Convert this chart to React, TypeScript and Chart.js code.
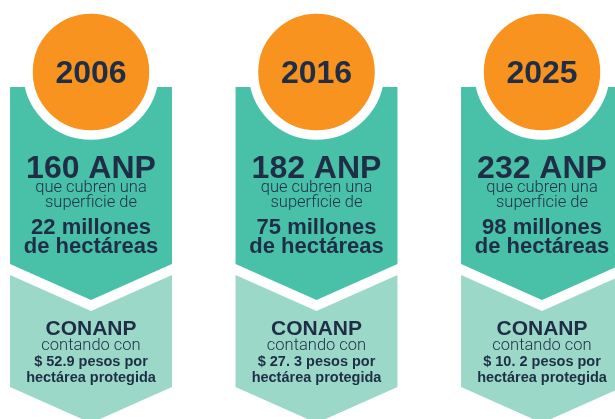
import React, { useEffect, useRef } from 'react';
import { Chart, registerables } from 'chart.js';

Chart.register(...registerables);

// ---- data ----
const years = ['2006', '2016', '2025'];
const anpCounts = [160, 182, 232];
const surfaceMillionHa = [22, 75, 98];
const pesosPerHa = ['52.9', '27. 3', '10. 2'];

// ---- styles ----
const COLORS = {
  orange: '#F7931E',
  teal: '#48C1A8',
  lightTeal: '#9BD8C8',
  text: '#1F2D46',
  white: '#FFFFFF',
};
const BOLD = '"Liberation Sans", Arial, Helvetica, sans-serif';
const LIGHT = 'Roboto, "Liberation Sans", Arial, sans-serif';

// ---- layout (y-scale units, 0 = top) ----
const LAYOUT = {
  circleY: 72,
  circleR: 63,
  ringW: 9.5,
  boxTop: 87,
  darkSide: 264,
  darkTip: 300,
  lightTop: 275,
  lightNotch: 311,
  lightSide: 387,
  lightTip: 423,
  halfW: 0.359, // in category units
};

const shapesPlugin = {
  id: 'infographicShapes',
  beforeDatasetsDraw(chart: any) {
    const { ctx, scales } = chart;
    const x = scales.x;
    const y = scales.y;
    years.forEach((_, i) => {
      const cx = x.getPixelForValue(i);
      const l = x.getPixelForValue(i - LAYOUT.halfW);
      const r = x.getPixelForValue(i + LAYOUT.halfW);
      const Y = (v: number) => y.getPixelForValue(v);
      ctx.save();
      ctx.fillStyle = COLORS.teal;
      ctx.beginPath();
      ctx.moveTo(l, Y(LAYOUT.boxTop));
      ctx.lineTo(r, Y(LAYOUT.boxTop));
      ctx.lineTo(r, Y(LAYOUT.darkSide));
      ctx.lineTo(cx, Y(LAYOUT.darkTip));
      ctx.lineTo(l, Y(LAYOUT.darkSide));
      ctx.closePath();
      ctx.fill();
      ctx.fillStyle = COLORS.lightTeal;
      ctx.beginPath();
      ctx.moveTo(l, Y(LAYOUT.lightTop));
      ctx.lineTo(cx, Y(LAYOUT.lightNotch));
      ctx.lineTo(r, Y(LAYOUT.lightTop));
      ctx.lineTo(r, Y(LAYOUT.lightSide));
      ctx.lineTo(cx, Y(LAYOUT.lightTip));
      ctx.lineTo(l, Y(LAYOUT.lightSide));
      ctx.closePath();
      ctx.fill();
      ctx.restore();
    });
  },
  afterDatasetsDraw(chart: any) {
    const { ctx, scales } = chart;
    const x = scales.x;
    const y = scales.y;
    ctx.save();
    ctx.fillStyle = COLORS.text;
    ctx.textAlign = 'center';
    ctx.textBaseline = 'alphabetic';
    years.forEach((year, i) => {
      const cx = x.getPixelForValue(i);
      const lines: [string, string, number][] = [
        [year, `bold 32px ${BOLD}`, 83],
        [`${anpCounts[i]} ANP`, `bold 32px ${BOLD}`, 178],
        ['que cubren una', `300 16.5px ${LIGHT}`, 192],
        ['superficie de', `300 16.5px ${LIGHT}`, 206.5],
        [`${surfaceMillionHa[i]} millones`, `bold 22px ${BOLD}`, 234],
        ['de hectáreas', `bold 22px ${BOLD}`, 253],
        ['CONANP', `bold 21px ${BOLD}`, 335],
        ['contando con', `300 16.5px ${LIGHT}`, 350],
        [`$ ${pesosPerHa[i]} pesos por`, `bold 14.5px ${BOLD}`, 366],
        ['hectárea protegida', `bold 14.5px ${BOLD}`, 381.5],
      ];
      lines.forEach(([t, f, yy]) => {
        ctx.font = f;
        ctx.fillText(t, cx, y.getPixelForValue(yy));
      });
    });
    ctx.restore();
  },
};

export default function App() {
  const ref = useRef<HTMLCanvasElement>(null);
  useEffect(() => {
    if (!ref.current) return;
    const chart = new Chart(ref.current, {
      type: 'scatter',
      data: {
        labels: years,
        datasets: [
          {
            data: years.map((_, i) => ({ x: i, y: LAYOUT.circleY })),
            pointRadius: LAYOUT.circleR,
            pointHoverRadius: LAYOUT.circleR,
            pointBackgroundColor: COLORS.orange,
            pointBorderColor: COLORS.white,
            pointBorderWidth: LAYOUT.ringW,
            clip: false as any,
          },
        ],
      },
      options: {
        responsive: false,
        animation: false,
        events: [],
        layout: { autoPadding: false, padding: { left: 91, right: 73, top: 0, bottom: 0 } },
        plugins: { legend: { display: false }, tooltip: { enabled: false } },
        scales: {
          x: { type: 'category', offset: false, display: false },
          y: { type: 'linear', min: 0, max: 419, reverse: true, display: false },
        },
      },
      plugins: [shapesPlugin],
    });
    return () => chart.destroy();
  }, []);
  return (
    <div style={{ position: 'fixed', left: 0, top: 0, width: 615, height: 419, background: '#fff' }}>
      <canvas ref={ref} width={615} height={419} />
    </div>
  );
}
